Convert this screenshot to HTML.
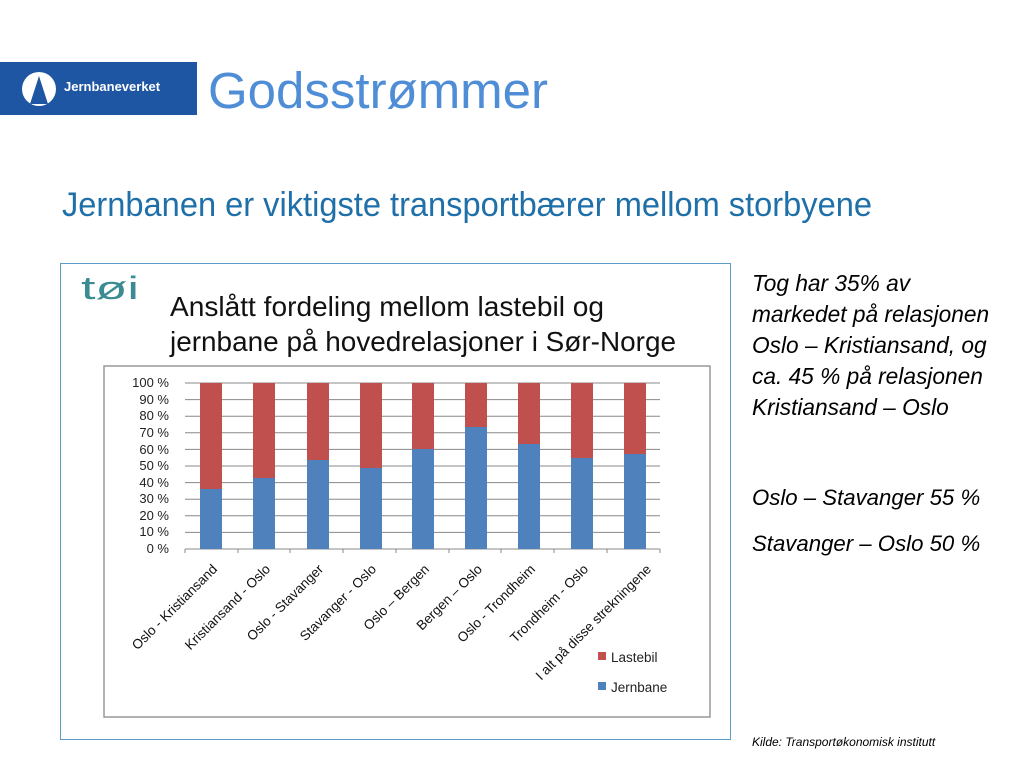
<!DOCTYPE html>
<html><head><meta charset="utf-8"><style>
body{margin:0;width:1024px;height:768px;background:#fff;overflow:hidden;font-family:"Liberation Sans",sans-serif;position:relative}
.abs{position:absolute}
</style></head><body>
<div class="abs" style="left:0;top:62px;width:197px;height:53px;background:#1f56a3"></div>
<div class="abs" style="left:22px;top:72px;width:34px;height:34px;border-radius:50%;background:#fff"></div>
<div class="abs" style="left:30px;top:76px;width:0;height:0;border-left:9px solid transparent;border-right:9px solid transparent;border-bottom:28px solid #1f56a3"></div>
<div class="abs" style="left:64px;top:79px;color:#fff;font-weight:bold;font-size:13px">Jernbaneverket</div>
<div class="abs" style="left:208px;top:61px;color:#4f8ed6;font-size:51px;line-height:60px">Godsstrømmer</div>
<div class="abs" style="left:752px;top:268px;font-size:22.7px;font-style:italic;line-height:31px;color:#000;white-space:nowrap">Tog har 35% av<br>markedet på relasjonen<br>Oslo – Kristiansand, og<br>ca. 45 % på relasjonen<br>Kristiansand – Oslo</div>
<div class="abs" style="left:752px;top:485px;font-size:22.2px;font-style:italic;color:#000">Oslo – Stavanger 55 %</div>
<div class="abs" style="left:752px;top:531px;font-size:22.2px;font-style:italic;color:#000">Stavanger – Oslo 50 %</div>
<div class="abs" style="left:752px;top:735px;font-size:12px;font-style:italic;color:#000">Kilde: Transportøkonomisk institutt</div>
<svg class="abs" style="left:0;top:0" width="1024" height="768">
<text x="62" y="216" font-size="34" fill="#1f6fa8" textLength="810" lengthAdjust="spacingAndGlyphs">Jernbanen er viktigste transportbærer mellom storbyene</text>
<rect x="60.5" y="263.5" width="670" height="476" fill="none" stroke="#5b9bc7"/>
<text x="81" y="299" font-size="32" fill="#3a8c92" textLength="58" lengthAdjust="spacingAndGlyphs">tøi</text>
<text x="170" y="316" font-size="28" fill="#111" textLength="434" lengthAdjust="spacingAndGlyphs">Anslått fordeling mellom lastebil og</text>
<text x="170" y="351" font-size="28" fill="#111" textLength="506" lengthAdjust="spacingAndGlyphs">jernbane på hovedrelasjoner i Sør-Norge</text>
<rect x="104" y="366" width="606" height="351" fill="#fff" stroke="#999" stroke-width="1.5"/>
<g stroke="#888" stroke-width="1">
<line x1="185" y1="383" x2="660" y2="383"/><line x1="185" y1="399.6" x2="660" y2="399.6"/><line x1="185" y1="416.2" x2="660" y2="416.2"/><line x1="185" y1="432.8" x2="660" y2="432.8"/><line x1="185" y1="449.4" x2="660" y2="449.4"/><line x1="185" y1="466" x2="660" y2="466"/><line x1="185" y1="482.6" x2="660" y2="482.6"/><line x1="185" y1="499.2" x2="660" y2="499.2"/><line x1="185" y1="515.8" x2="660" y2="515.8"/><line x1="185" y1="532.4" x2="660" y2="532.4"/><line x1="185" y1="549" x2="660" y2="549"/>
</g>
<g font-size="13" fill="#222" text-anchor="end">
<text x="169" y="387">100 %</text><text x="169" y="404">90 %</text><text x="169" y="420">80 %</text><text x="169" y="437">70 %</text><text x="169" y="454">60 %</text><text x="169" y="470">50 %</text><text x="169" y="487">40 %</text><text x="169" y="503">30 %</text><text x="169" y="520">20 %</text><text x="169" y="536">10 %</text><text x="169" y="553">0 %</text>
</g>
<g stroke="#888"><line x1="185" y1="549" x2="185" y2="553"/><line x1="238" y1="549" x2="238" y2="553"/><line x1="290" y1="549" x2="290" y2="553"/><line x1="343" y1="549" x2="343" y2="553"/><line x1="396" y1="549" x2="396" y2="553"/><line x1="449" y1="549" x2="449" y2="553"/><line x1="501" y1="549" x2="501" y2="553"/><line x1="554" y1="549" x2="554" y2="553"/><line x1="607" y1="549" x2="607" y2="553"/><line x1="660" y1="549" x2="660" y2="553"/></g>
<rect x="200" y="383" width="22" height="106" fill="#c0504d"/><rect x="200" y="489" width="22" height="60" fill="#4f81bd"/>
<rect x="253" y="383" width="22" height="95" fill="#c0504d"/><rect x="253" y="478" width="22" height="71" fill="#4f81bd"/>
<rect x="307" y="383" width="22" height="77" fill="#c0504d"/><rect x="307" y="460" width="22" height="89" fill="#4f81bd"/>
<rect x="360" y="383" width="22" height="85" fill="#c0504d"/><rect x="360" y="468" width="22" height="81" fill="#4f81bd"/>
<rect x="412" y="383" width="22" height="66" fill="#c0504d"/><rect x="412" y="449" width="22" height="100" fill="#4f81bd"/>
<rect x="465" y="383" width="22" height="44" fill="#c0504d"/><rect x="465" y="427" width="22" height="122" fill="#4f81bd"/>
<rect x="518" y="383" width="22" height="61" fill="#c0504d"/><rect x="518" y="444" width="22" height="105" fill="#4f81bd"/>
<rect x="571" y="383" width="22" height="75" fill="#c0504d"/><rect x="571" y="458" width="22" height="91" fill="#4f81bd"/>
<rect x="624" y="383" width="22" height="71" fill="#c0504d"/><rect x="624" y="454" width="22" height="95" fill="#4f81bd"/>
<g font-size="13.5" fill="#111" text-anchor="end">
<text transform="translate(218,570) rotate(-45)">Oslo - Kristiansand</text>
<text transform="translate(271,570) rotate(-45)">Kristiansand - Oslo</text>
<text transform="translate(324,570) rotate(-45)">Oslo - Stavanger</text>
<text transform="translate(377,570) rotate(-45)">Stavanger - Oslo</text>
<text transform="translate(430,570) rotate(-45)">Oslo – Bergen</text>
<text transform="translate(483,570) rotate(-45)">Bergen – Oslo</text>
<text transform="translate(536,570) rotate(-45)">Oslo - Trondheim</text>
<text transform="translate(589,570) rotate(-45)">Trondheim - Oslo</text>
<text transform="translate(652,570) rotate(-45)">I alt på disse strekningene</text>
</g>
<rect x="598" y="652" width="8" height="8" fill="#c0504d"/><text x="611" y="662" font-size="13.5" fill="#222">Lastebil</text>
<rect x="598" y="682" width="8" height="8" fill="#4f81bd"/><text x="611" y="692" font-size="13.5" fill="#222">Jernbane</text>
</svg>
</body></html>
